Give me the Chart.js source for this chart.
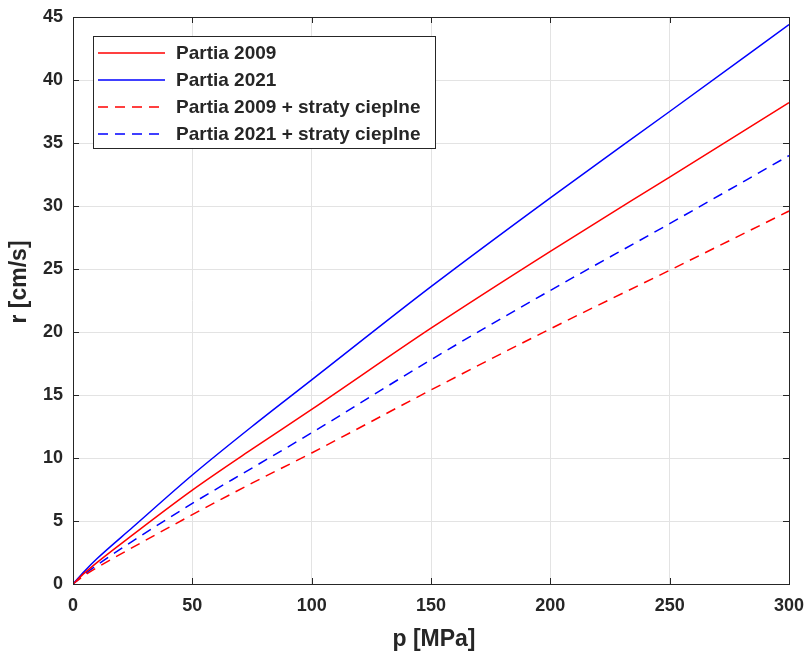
<!DOCTYPE html>
<html>
<head>
<meta charset="utf-8">
<script src="https://cdn.jsdelivr.net/npm/chart.js@4"></script>
<style>
  html, body { margin: 0; padding: 0; background: #fff; }
  #chart { display: block; }
</style>
</head>
<body>
<canvas id="chart" width="808" height="653"></canvas>
<script>
// p [MPa]
const cisnienie = [0, 5, 10, 25, 50, 75, 100, 150, 200, 250, 300];
// r [cm/s]
const partia2009 = [0, 0.9, 1.7, 3.9, 7.45, 10.7, 13.85, 20.3, 26.4, 32.3, 38.2];
const partia2021 = [0, 1.05, 2.0, 4.5, 8.65, 12.5, 16.2, 23.6, 30.65, 37.5, 44.4];
const partia2009Straty = [0, 0.7, 1.3, 2.9, 5.5, 8.0, 10.4, 15.4, 20.25, 24.9, 29.6];
const partia2021Straty = [0, 0.8, 1.5, 3.4, 6.4, 9.2, 12.0, 17.8, 23.3, 28.6, 34.0];

const etykiety = [
  'Partia 2009',
  'Partia 2021',
  'Partia 2009 + straty cieplne',
  'Partia 2021 + straty cieplne',
];

const xTicks = [0, 50, 100, 150, 200, 250, 300];
const yTicks = [0, 5, 10, 15, 20, 25, 30, 35, 40, 45];
const tytulX = 'p [MPa]';
const tytulY = 'r [cm/s]';

const ciemny = '#262626';
const czcionka = '"Liberation Sans", Arial, sans-serif';
const dash = [10, 7];

function punkty(ys) {
  return cisnienie.map((p, i) => ({ x: p, y: ys[i] }));
}

function seria(label, ys, color, kreski) {
  return {
    label,
    data: punkty(ys),
    borderColor: color,
    backgroundColor: color,
    borderWidth: 1.5,
    borderDash: kreski,
    pointRadius: 0,
    cubicInterpolationMode: 'monotone',
    fill: false,
  };
}

// ramka, ticki do wewnatrz, tytuly osi i legenda w rogu
const ramkaPlugin = {
  id: 'ramka',
  afterDraw(chart) {
    const { ctx, chartArea: a, scales } = chart;
    ctx.save();
    ctx.strokeStyle = ciemny;
    ctx.lineWidth = 1;
    ctx.setLineDash([]);
    ctx.strokeRect(a.left + 0.5, a.top + 0.5, a.right - a.left, a.bottom - a.top);

    const t = 6;
    ctx.beginPath();
    xTicks.forEach((v) => {
      const px = Math.round(scales.x.getPixelForValue(v)) + 0.5;
      ctx.moveTo(px, a.bottom); ctx.lineTo(px, a.bottom - t);
      ctx.moveTo(px, a.top); ctx.lineTo(px, a.top + t);
    });
    yTicks.forEach((v) => {
      const py = Math.round(scales.y.getPixelForValue(v)) + 0.5;
      ctx.moveTo(a.left, py); ctx.lineTo(a.left + t, py);
      ctx.moveTo(a.right, py); ctx.lineTo(a.right - t, py);
    });
    ctx.stroke();

    // tytuly osi
    ctx.fillStyle = ciemny;
    ctx.font = 'bold 23px ' + czcionka;
    ctx.textAlign = 'center';
    ctx.textBaseline = 'middle';
    ctx.fillText(tytulX, (a.left + a.right) / 2 + 3, 640);
    ctx.save();
    ctx.translate(20, 282);
    ctx.rotate(-Math.PI / 2);
    ctx.fillText(tytulY, 0, 0);
    ctx.restore();

    // legenda
    const lx = 93, ly = 36, lw = 342, lh = 112;
    ctx.fillStyle = '#fff';
    ctx.fillRect(lx, ly, lw, lh);
    ctx.strokeStyle = ciemny;
    ctx.strokeRect(lx + 0.5, ly + 0.5, lw, lh);
    ctx.font = 'bold 19px ' + czcionka;
    ctx.textAlign = 'left';
    ctx.textBaseline = 'middle';
    chart.data.datasets.forEach((ds, i) => {
      const y = ly + 17 + i * 27;
      ctx.strokeStyle = ds.borderColor;
      ctx.lineWidth = 1.5;
      ctx.setLineDash(ds.borderDash || []);
      ctx.beginPath();
      ctx.moveTo(lx + 5, y);
      ctx.lineTo(lx + 72, y);
      ctx.stroke();
      ctx.fillStyle = ciemny;
      ctx.fillText(ds.label, lx + 83, y + 1);
    });
    ctx.restore();
  },
};

const ctx = document.getElementById('chart').getContext('2d');

new Chart(ctx, {
  type: 'line',
  data: {
    datasets: [
      seria(etykiety[0], partia2009, '#ff0000', []),
      seria(etykiety[1], partia2021, '#0000ff', []),
      seria(etykiety[2], partia2009Straty, '#ff0000', dash),
      seria(etykiety[3], partia2021Straty, '#0000ff', dash),
    ],
  },
  options: {
    responsive: false,
    animation: false,
    layout: { padding: { top: 17, right: 19, left: 0, bottom: 0 } },
    plugins: {
      legend: { display: false },
      tooltip: { enabled: false },
    },
    scales: {
      x: {
        type: 'linear',
        min: 0,
        max: 300,
        afterBuildTicks: (s) => { s.ticks = xTicks.map((v) => ({ value: v })); },
        afterFit: (s) => {
          s.height = 69;
          s.paddingLeft = 0;
          s.paddingRight = 0;
        },
        ticks: {
          color: ciemny,
          font: { family: czcionka, size: 18, weight: 'bold' },
          padding: 11,
          maxRotation: 0,
        },
        grid: { color: '#e3e3e3', drawTicks: false },
        border: { display: false },
      },
      y: {
        type: 'linear',
        min: 0,
        max: 45,
        afterBuildTicks: (s) => { s.ticks = yTicks.map((v) => ({ value: v })); },
        afterFit: (s) => {
          s.width = 73;
          s.paddingTop = 0;
          s.paddingBottom = 0;
        },
        ticks: {
          color: ciemny,
          font: { family: czcionka, size: 18, weight: 'bold' },
          padding: 10,
        },
        grid: { color: '#e3e3e3', drawTicks: false },
        border: { display: false },
      },
    },
  },
  plugins: [ramkaPlugin],
});
</script>
</body>
</html>
